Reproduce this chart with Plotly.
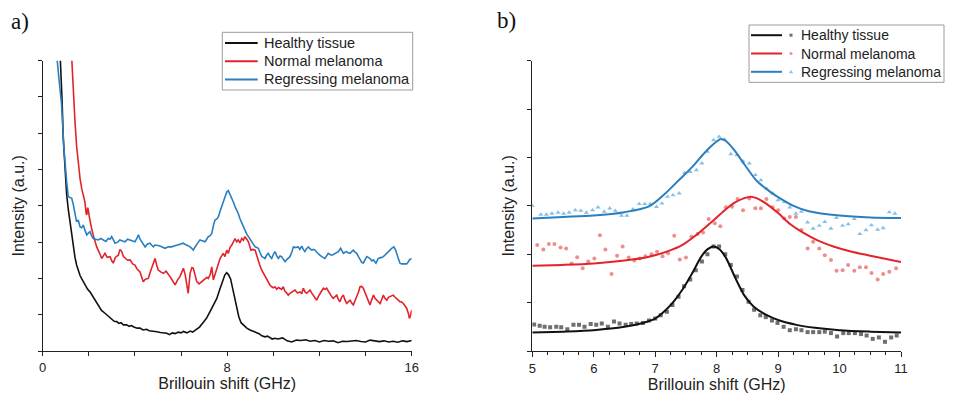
import plotly.graph_objects as go

# ---------------- Panel a: raw spectra ----------------
a_healthy_x = [0.70, 0.78, 0.84, 0.89, 0.96, 1.04, 1.11, 1.18, 1.25, 1.33, 1.40, 1.47, 1.55, 1.62, 1.70, 1.76,
               1.85, 1.95, 2.05, 2.15, 2.25, 2.41, 2.55, 2.70, 2.85, 3.00, 3.10, 3.21, 3.30, 3.40, 3.50, 3.64,
               3.75, 3.85, 3.95, 4.10, 4.22, 4.35, 4.50, 4.62, 4.80, 4.95, 5.10, 5.25, 5.38, 5.50, 5.62, 5.75,
               5.88, 6.00, 6.10, 6.25, 6.40, 6.50, 6.65, 6.80, 6.95, 7.10, 7.25, 7.40, 7.55, 7.68, 7.80, 7.90,
               7.98, 8.06, 8.15, 8.24, 8.32, 8.41, 8.50, 8.60, 8.72, 8.85, 8.99, 9.10, 9.21, 9.30, 9.40, 9.50,
               9.64, 9.75, 9.85, 9.95, 10.07, 10.2, 10.4, 10.6, 10.8, 11.0, 11.2, 11.4, 11.6, 11.8, 12.0, 12.2,
               12.4, 12.6, 12.8, 13.0, 13.2, 13.4, 13.6, 13.8, 14.0, 14.2, 14.4, 14.6, 14.8, 15.0, 15.2, 15.4,
               15.6, 15.8, 16.0]
a_healthy_y = [9.0, 8.0, 6.9, 5.88, 5.0, 4.30, 3.90, 3.56, 3.18, 2.83, 2.58, 2.37, 2.20, 2.08, 1.98, 1.91,
               1.78, 1.70, 1.63, 1.52, 1.42, 1.27, 1.12, 1.04, 0.95, 0.86, 0.82, 0.81, 0.76, 0.78, 0.72, 0.72,
               0.68, 0.70, 0.66, 0.63, 0.63, 0.58, 0.60, 0.56, 0.55, 0.53, 0.51, 0.49, 0.49, 0.45, 0.50, 0.48,
               0.52, 0.50, 0.54, 0.50, 0.55, 0.52, 0.58, 0.66, 0.78, 0.90, 1.08, 1.25, 1.45, 1.70, 1.95, 2.10,
               2.16, 2.10, 1.98, 1.70, 1.50, 1.13, 0.95, 0.78, 0.70, 0.63, 0.58, 0.55, 0.53, 0.49, 0.47, 0.42,
               0.39, 0.41, 0.37, 0.33, 0.35, 0.33, 0.36, 0.28, 0.25, 0.30, 0.29, 0.31, 0.27, 0.29, 0.25, 0.29,
               0.27, 0.28, 0.23, 0.27, 0.26, 0.27, 0.29, 0.26, 0.25, 0.30, 0.27, 0.26, 0.28, 0.25, 0.27, 0.24,
               0.28, 0.26, 0.29]

a_normal_x = [1.20, 1.26, 1.33, 1.40, 1.47, 1.54, 1.62, 1.69, 1.76, 1.83, 1.88, 1.91, 1.95, 1.98, 2.02, 2.05,
              2.12, 2.19, 2.26, 2.34, 2.45, 2.56, 2.63, 2.70, 2.80, 2.92, 3.00, 3.06, 3.15, 3.28, 3.35, 3.43,
              3.50, 3.57, 3.68, 3.79, 3.90, 4.00, 4.10, 4.22, 4.30, 4.36, 4.45, 4.58, 4.65, 4.73, 4.80, 4.87,
              4.95, 5.01, 5.12, 5.23, 5.35, 5.45, 5.52, 5.62, 5.74, 5.85, 5.95, 6.05, 6.10, 6.18, 6.24, 6.31,
              6.39, 6.47, 6.53, 6.60, 6.68, 6.78, 6.89, 6.97, 7.04, 7.12, 7.18, 7.26, 7.33, 7.40, 7.48, 7.55,
              7.62, 7.69, 7.76, 7.83, 7.90, 7.98, 8.05, 8.12, 8.20, 8.27, 8.34, 8.41, 8.48, 8.55, 8.63, 8.70,
              8.77, 8.85, 8.92, 9.03, 9.12, 9.21, 9.28, 9.35, 9.42, 9.50, 9.57, 9.64, 9.71, 9.78, 9.85, 9.93,
              10.00, 10.07, 10.15, 10.22, 10.29, 10.36, 10.43, 10.50, 10.58, 10.65, 10.72, 10.80, 10.87, 10.94,
              11.05, 11.16, 11.23, 11.30, 11.38, 11.45, 11.52, 11.59, 11.66, 11.73, 11.80, 11.88, 11.95, 12.02,
              12.10, 12.17, 12.24, 12.31, 12.38, 12.46, 12.53, 12.60, 12.68, 12.75, 12.82, 12.89, 12.96, 13.04,
              13.11, 13.18, 13.26, 13.33, 13.40, 13.47, 13.55, 13.62, 13.69, 13.76, 13.83, 13.90, 13.98, 14.05,
              14.12, 14.19, 14.27, 14.34, 14.41, 14.48, 14.55, 14.63, 14.70, 14.77, 14.84, 14.92, 14.99, 15.06,
              15.13, 15.20, 15.28, 15.35, 15.42, 15.49, 15.56, 15.64, 15.71, 15.78, 15.85, 15.90, 15.95, 16.00]
a_normal_y = [8.8, 8.0, 7.1, 6.32, 5.65, 5.12, 4.75, 4.48, 4.28, 4.11, 3.80, 3.75, 3.95, 3.88, 3.70, 3.56,
              3.38, 3.20, 3.02, 2.87, 2.72, 2.55, 2.62, 2.69, 2.58, 2.60, 2.48, 2.42, 2.58, 2.64, 2.80, 2.74,
              2.60, 2.55, 2.50, 2.51, 2.40, 2.37, 2.25, 2.18, 2.05, 1.91, 1.98, 2.00, 2.15, 2.28, 2.45, 2.55,
              2.35, 2.23, 2.18, 2.14, 2.20, 2.12, 2.05, 1.95, 1.82, 1.96, 2.05, 2.20, 2.28, 2.10, 1.91, 1.59,
              2.14, 2.30, 2.28, 2.10, 1.91, 1.85, 1.91, 1.96, 2.00, 2.03, 2.00, 2.10, 2.32, 1.96, 2.12, 2.28,
              2.40, 2.55, 2.62, 2.69, 2.60, 2.78, 2.69, 2.85, 2.92, 3.00, 3.10, 3.01, 3.06, 2.98, 3.10, 3.05,
              3.15, 3.08, 3.01, 2.78, 2.80, 2.78, 2.62, 2.51, 2.35, 2.23, 2.15, 2.05, 1.98, 1.91, 1.82, 1.77,
              1.74, 1.77, 1.70, 1.75, 1.73, 1.70, 1.77, 1.65, 1.60, 1.54, 1.59, 1.62, 1.63, 1.68,
              1.60, 1.63, 1.58, 1.73, 1.62, 1.59, 1.64, 1.68, 1.60, 1.54, 1.45, 1.40, 1.50, 1.59,
              1.66, 1.73, 1.70, 1.73, 1.65, 1.59, 1.50, 1.45, 1.50, 1.54, 1.42, 1.36, 1.48, 1.54,
              1.40, 1.31, 1.36, 1.40, 1.32, 1.27, 1.40, 1.50, 1.62, 1.77, 1.78, 1.73, 1.60, 1.50,
              1.38, 1.27, 1.42, 1.54, 1.45, 1.40, 1.36, 1.31, 1.42, 1.54, 1.45, 1.40, 1.48, 1.50,
              1.52, 1.54, 1.48, 1.45, 1.40, 1.36, 1.35, 1.31, 1.25, 1.18, 1.05, 0.90, 0.98, 1.13]

a_regress_x = [0.58, 0.63, 0.72, 0.82, 0.92, 0.98, 1.04, 1.11, 1.18, 1.26, 1.33, 1.40, 1.47, 1.54, 1.62, 1.69,
               1.76, 1.83, 1.91, 1.98, 2.05, 2.12, 2.19, 2.30, 2.41, 2.52, 2.63, 2.74, 2.84, 2.92, 2.99, 3.07,
               3.14, 3.25, 3.35, 3.46, 3.57, 3.68, 3.79, 3.90, 4.00, 4.08, 4.15, 4.22, 4.29, 4.37, 4.44, 4.55,
               4.65, 4.72, 4.80, 4.87, 4.94, 5.05, 5.16, 5.30, 5.45, 5.59, 5.74, 5.88, 6.00, 6.10, 6.17, 6.24,
               6.32, 6.39, 6.46, 6.53, 6.60, 6.68, 6.75, 6.82, 6.92, 7.04, 7.11, 7.18, 7.26, 7.33, 7.40, 7.47,
               7.55, 7.62, 7.69, 7.76, 7.84, 7.91, 7.98, 8.05, 8.12, 8.20, 8.27, 8.34, 8.41, 8.48, 8.55, 8.63,
               8.70, 8.77, 8.85, 8.92, 9.00, 9.06, 9.14, 9.21, 9.28, 9.35, 9.43, 9.50, 9.57, 9.64, 9.71, 9.78,
               9.86, 9.93, 10.00, 10.07, 10.15, 10.22, 10.29, 10.36, 10.44, 10.51, 10.58, 10.65, 10.72, 10.80,
               10.87, 10.94, 11.01, 11.08, 11.15, 11.23, 11.30, 11.37, 11.44, 11.52, 11.59, 11.66, 11.73, 11.81,
               11.88, 11.95, 12.02, 12.10, 12.17, 12.24, 12.31, 12.38, 12.46, 12.53, 12.60, 12.68, 12.75, 12.82,
               12.92, 12.98, 13.04, 13.11, 13.18, 13.26, 13.33, 13.40, 13.47, 13.55, 13.62, 13.69, 13.76, 13.83,
               13.90, 13.98, 14.05, 14.12, 14.19, 14.27, 14.34, 14.41, 14.45, 14.55, 14.63, 14.70, 14.77, 14.84,
               14.92, 14.99, 15.06, 15.13, 15.23, 15.30, 15.35, 15.42, 15.49, 15.56, 15.64, 15.71, 15.78, 15.85,
               15.90, 16.00]
a_regress_y = [8.8, 8.0, 7.4, 6.78, 5.58, 5.05, 4.66, 4.25, 4.22, 4.21, 4.02, 3.78, 3.56, 3.61, 3.42, 3.40,
               3.47, 3.33, 3.20, 3.25, 3.29, 3.18, 3.10, 3.08, 3.06, 3.10, 3.06, 3.02, 3.10, 3.08, 3.15, 3.05,
               2.97, 3.00, 3.06, 3.03, 3.01, 3.08, 3.06, 3.02, 3.01, 3.10, 3.20, 3.08, 3.01, 2.95, 2.87, 2.95,
               2.97, 2.92, 2.87, 2.92, 2.92, 2.90, 2.87, 2.83, 2.87, 2.87, 2.90, 2.92, 2.95, 2.97, 2.94, 2.92,
               2.90, 2.87, 2.83, 2.78, 2.86, 2.92, 3.00, 3.06, 3.04, 3.01, 3.08, 3.15, 3.18, 3.24, 3.45, 3.61,
               3.64, 3.70, 3.85, 3.98, 4.12, 4.25, 4.38, 4.42, 4.32, 4.25, 4.10, 3.98, 3.90, 3.79, 3.65, 3.52,
               3.42, 3.33, 3.22, 3.15, 3.08, 3.01, 2.95, 2.87, 2.85, 2.83, 2.70, 2.60, 2.58, 2.55, 2.64, 2.69,
               2.60, 2.55, 2.66, 2.74, 2.62, 2.55, 2.62, 2.60, 2.52, 2.46, 2.52, 2.55, 2.60, 2.72,
               2.87, 2.85, 2.87, 2.87, 2.80, 2.89, 2.80, 2.74, 2.82, 2.87, 2.82, 2.78, 2.80, 2.78,
               2.72, 2.69, 2.64, 2.60, 2.58, 2.55, 2.62, 2.69, 2.66, 2.64, 2.66, 2.69, 2.72, 2.74,
               2.83, 2.75, 2.69, 2.72, 2.74, 2.70, 2.69, 2.74, 2.78, 2.72, 2.69, 2.60, 2.51, 2.45,
               2.42, 2.52, 2.60, 2.58, 2.55, 2.48, 2.51, 2.45, 2.42, 2.55, 2.56, 2.58, 2.60, 2.64,
               2.68, 2.74, 2.78, 2.83, 2.87, 2.78, 2.69, 2.55, 2.42, 2.40, 2.40, 2.41, 2.40, 2.45,
               2.51, 2.55]

# ---------------- Panel b: data points + Lorentzian fits ----------------
b_healthy_pts_x = [5.03, 5.12, 5.20, 5.29, 5.39, 5.47, 5.57, 5.67, 5.76, 5.85, 5.95, 6.04, 6.13, 6.23, 6.33,
                   6.42, 6.52, 6.61, 6.70, 6.80, 6.90, 7.00, 7.09, 7.19, 7.28, 7.38, 7.47, 7.57, 7.66, 7.76,
                   7.85, 7.95, 8.04, 8.14, 8.23, 8.33, 8.42, 8.52, 8.61, 8.71, 8.80, 8.90, 8.99, 9.09, 9.19,
                   9.29, 9.38, 9.48, 9.57, 9.67, 9.76, 9.86, 9.96, 10.06, 10.15, 10.25, 10.35, 10.44, 10.54,
                   10.64, 10.74, 10.84, 10.93]
b_healthy_pts_y = [0.55, 0.52, 0.50, 0.49, 0.50, 0.49, 0.45, 0.54, 0.54, 0.50, 0.56, 0.54, 0.57, 0.50, 0.61,
                   0.57, 0.54, 0.56, 0.57, 0.58, 0.63, 0.67, 0.74, 0.81, 0.95, 1.12, 1.34, 1.48, 1.67, 1.85,
                   2.00, 2.16, 2.16, 2.00, 1.78, 1.54, 1.26, 1.02, 0.85, 0.74, 0.70, 0.63, 0.58, 0.50, 0.43,
                   0.45, 0.43, 0.39, 0.39, 0.39, 0.40, 0.37, 0.30, 0.37, 0.37, 0.37, 0.35, 0.32, 0.25,
                   0.28, 0.19, 0.28, 0.32]

b_normal_pts_x = [5.08, 5.18, 5.27, 5.36, 5.46, 5.55, 5.64, 5.73, 5.82, 5.91, 6.01, 6.10, 6.19, 6.29, 6.38,
                  6.47, 6.57, 6.66, 6.75, 6.84, 6.94, 7.03, 7.12, 7.21, 7.31, 7.40, 7.50, 7.59, 7.69, 7.78,
                  7.87, 7.97, 8.06, 8.15, 8.25, 8.34, 8.43, 8.53, 8.63, 8.72, 8.81, 8.91, 9.00, 9.10, 9.19,
                  9.29, 9.38, 9.48, 9.57, 9.67, 9.76, 9.86, 9.95, 10.05, 10.14, 10.24, 10.33, 10.43, 10.52,
                  10.62, 10.71, 10.81, 10.92]
b_normal_pts_y = [2.19, 2.10, 2.21, 2.21, 2.14, 2.12, 1.81, 1.94, 1.71, 1.85, 1.91, 2.39, 2.10, 1.59, 1.97,
                  2.16, 1.93, 1.87, 1.91, 1.96, 2.00, 2.05, 1.96, 2.02, 2.38, 1.89, 1.93, 2.36, 2.42, 2.45,
                  2.73, 2.64, 2.58, 2.97, 2.98, 3.14, 2.91, 3.15, 2.95, 2.95, 3.14, 2.97, 2.91, 2.74, 2.77,
                  2.77, 2.50, 2.12, 2.26, 2.12, 1.98, 1.88, 1.66, 1.67, 1.78, 1.66, 1.73, 1.73, 1.61,
                  1.48, 1.59, 1.64, 1.71]

b_regress_pts_x = [5.00, 5.14, 5.23, 5.32, 5.42, 5.51, 5.60, 5.70, 5.79, 5.88, 5.98, 6.07, 6.17, 6.26, 6.35,
                   6.45, 6.54, 6.64, 6.74, 6.83, 6.92, 7.02, 7.11, 7.20, 7.29, 7.39, 7.48, 7.57, 7.67, 7.76,
                   7.85, 7.95, 8.04, 8.13, 8.23, 8.33, 8.43, 8.53, 8.63, 8.72, 8.81, 8.91, 9.00, 9.10, 9.19,
                   9.29, 9.38, 9.48, 9.57, 9.67, 9.76, 9.86, 9.95, 10.05, 10.14, 10.24, 10.33, 10.43, 10.52,
                   10.62, 10.71, 10.81, 10.90]
b_regress_pts_y = [3.00, 2.82, 2.82, 2.84, 2.86, 2.84, 2.86, 2.91, 2.90, 2.86, 2.91, 2.97, 2.88, 2.95, 2.90,
                   2.80, 2.80, 2.93, 3.04, 3.04, 3.04, 2.98, 3.05, 3.19, 3.22, 3.26, 3.68, 3.70, 3.74, 3.88,
                   4.12, 4.36, 4.43, 4.37, 4.07, 4.05, 3.92, 3.88, 3.64, 3.53, 3.36, 3.26, 3.12, 3.08, 2.97,
                   2.84, 2.88, 2.66, 2.53, 2.59, 2.67, 2.53, 2.75, 2.59, 2.62, 2.73, 2.42, 2.50, 2.60,
                   2.51, 2.54, 2.87, 2.84]

b_healthy_fit_x = [5.0, 5.5, 6.0, 6.5, 6.8, 7.0, 7.15, 7.3, 7.45, 7.6, 7.75, 7.85, 7.95, 8.05, 8.15, 8.3, 8.45,
                   8.6, 8.8, 9.0, 9.3, 9.6, 10.0, 10.5, 11.0]
b_healthy_fit_y = [0.38, 0.40, 0.43, 0.50, 0.58, 0.67, 0.82, 1.02, 1.28, 1.60, 1.95, 2.10, 2.16, 2.10, 1.93,
                   1.52, 1.15, 0.92, 0.75, 0.64, 0.54, 0.48, 0.43, 0.40, 0.38]

b_normal_fit_x = [5.0, 5.5, 6.0, 6.5, 6.9, 7.2, 7.45, 7.7, 7.95, 8.15, 8.3, 8.45, 8.55, 8.65, 8.8, 9.0, 9.2,
                  9.4, 9.65, 9.9, 10.2, 10.5, 11.0]
b_normal_fit_y = [1.76, 1.78, 1.81, 1.87, 1.95, 2.06, 2.20, 2.43, 2.70, 2.93, 3.07, 3.16, 3.19, 3.16, 3.05,
                  2.85, 2.62, 2.45, 2.28, 2.16, 2.05, 1.97, 1.84]

b_regress_fit_x = [5.0, 5.5, 6.0, 6.5, 6.9, 7.15, 7.4, 7.6, 7.75, 7.9, 8.0, 8.07, 8.15, 8.3, 8.45, 8.65, 8.85,
                   9.0, 9.25, 9.5, 10.0, 10.5, 11.0]
b_regress_fit_y = [2.74, 2.77, 2.80, 2.87, 2.99, 3.24, 3.55, 3.80, 4.02, 4.22, 4.33, 4.38, 4.34, 4.13, 3.86,
                   3.52, 3.31, 3.18, 3.00, 2.89, 2.80, 2.76, 2.75]

series_names = ["Healthy tissue", "Normal melanoma", "Regressing melanoma"]
line_colors = ["#111111", "#e2232a", "#2a7fc0"]
point_colors = ["rgba(95,95,95,0.9)", "rgba(236,120,120,0.85)", "rgba(120,185,230,0.9)"]
point_symbols = ["square", "circle", "triangle-up"]

FONT = "Liberation Sans, Arial, sans-serif"
# The page body keeps its default 8 px margin, so the figure is sized to the rest of the window
# and all layout positions below (given in window pixels) are shifted by that offset.
OFF = 8
W, H = 953 - OFF, 396 - OFF
fig = go.Figure()


def px(x):
    return (x - OFF) / W


def py(y):
    return 1 - (y - OFF) / H


# Panel a traces
for xs, ys, name, col in zip([a_healthy_x, a_normal_x, a_regress_x],
                             [a_healthy_y, a_normal_y, a_regress_y], series_names, line_colors):
    fig.add_trace(go.Scatter(x=xs, y=ys, mode="lines", name=name, showlegend=False,
                             line=dict(color=col, width=1.6), xaxis="x", yaxis="y"))

# Panel b points
for xs, ys, name, col, sym in zip([b_healthy_pts_x, b_normal_pts_x, b_regress_pts_x],
                                  [b_healthy_pts_y, b_normal_pts_y, b_regress_pts_y],
                                  series_names, point_colors, point_symbols):
    fig.add_trace(go.Scatter(x=xs, y=ys, mode="markers", name=name, showlegend=False,
                             marker=dict(color=col, size=4 if sym != "triangle-up" else 4.5,
                                         symbol=sym, line=dict(width=0)),
                             xaxis="x2", yaxis="y2"))
# Panel b fits
for xs, ys, name, col in zip([b_healthy_fit_x, b_normal_fit_x, b_regress_fit_x],
                             [b_healthy_fit_y, b_normal_fit_y, b_regress_fit_y], series_names, line_colors):
    fig.add_trace(go.Scatter(x=xs, y=ys, mode="lines", name=name, showlegend=False,
                             line=dict(color=col, width=2, shape="spline", smoothing=0.8),
                             xaxis="x2", yaxis="y2"))

# ---- legends (drawn as boxes, sample lines and text) ----
shapes = []
annotations = []


def add_legend(box, rows_y, line_x0, line_x1, text_x, font_size, marker_x=None):
    shapes.append(dict(type="rect", xref="paper", yref="paper", x0=px(box[0]), x1=px(box[1]),
                       y0=py(box[3]), y1=py(box[2]), line=dict(color="#9a9a9a", width=1),
                       fillcolor="white", layer="above"))
    for i, (name, col) in enumerate(zip(series_names, line_colors)):
        yy = rows_y[i]
        shapes.append(dict(type="line", xref="paper", yref="paper", x0=px(line_x0), x1=px(line_x1),
                           y0=py(yy), y1=py(yy), line=dict(color=col, width=2), layer="above"))
        if marker_x is not None:
            mc = point_colors[i]
            r = 1.5
            if point_symbols[i] == "square":
                shapes.append(dict(type="rect", xref="paper", yref="paper", x0=px(marker_x - r),
                                   x1=px(marker_x + r), y0=py(yy + r), y1=py(yy - r),
                                   fillcolor=mc, line=dict(width=0), layer="above"))
            elif point_symbols[i] == "circle":
                shapes.append(dict(type="circle", xref="paper", yref="paper", x0=px(marker_x - r),
                                   x1=px(marker_x + r), y0=py(yy + r), y1=py(yy - r),
                                   fillcolor=mc, line=dict(width=0), layer="above"))
            else:
                path = "M {:.5f} {:.5f} L {:.5f} {:.5f} L {:.5f} {:.5f} Z".format(
                    px(marker_x - 2), py(yy + 1.5), px(marker_x + 2), py(yy + 1.5), px(marker_x), py(yy - 2))
                shapes.append(dict(type="path", xref="paper", yref="paper", path=path,
                                   fillcolor=mc, line=dict(width=0), layer="above"))
        annotations.append(dict(text=name, x=px(text_x), y=py(yy), xref="paper", yref="paper",
                                xanchor="left", yanchor="middle", showarrow=False,
                                font=dict(family=FONT, size=font_size, color="#222")))


add_legend(box=(222.3, 412.7, 32.3, 90.0), rows_y=[43.0, 61.2, 79.4],
           line_x0=225.0, line_x1=257.7, text_x=261.5, font_size=14.5)
add_legend(box=(749.0, 944.0, 25.0, 82.3), rows_y=[35.2, 53.5, 71.8],
           line_x0=751.0, line_x1=782.0, text_x=799.0, font_size=14.0, marker_x=791.0)

annotations.append(dict(text="a)", x=px(9), y=py(22), xref="paper", yref="paper", xanchor="left",
                        yanchor="middle", showarrow=False,
                        font=dict(family="Liberation Serif, Times New Roman, serif", size=23, color="#111")))
annotations.append(dict(text="b)", x=px(495), y=py(21), xref="paper", yref="paper", xanchor="left",
                        yanchor="middle", showarrow=False,
                        font=dict(family="Liberation Serif, Times New Roman, serif", size=23, color="#111")))

ax_common = dict(showgrid=False, zeroline=False, showline=True, linecolor="#222", linewidth=1.3,
                 ticks="outside", tickcolor="#222", tickwidth=1.2, mirror=False, automargin=False)
ydom = [py(351), py(60.7)]

fig.update_layout(
    width=W, height=H, margin=dict(l=0, r=0, t=0, b=0, autoexpand=False),
    paper_bgcolor="white", plot_bgcolor="white", showlegend=False,
    font=dict(family=FONT, color="#222", size=13),
    xaxis=dict(domain=[px(42.7), px(411.7)], range=[0, 16], tickvals=[0, 8, 16], ticklen=4,
               minor=dict(dtick=2, ticks="outside", ticklen=4, tickcolor="#222", tickwidth=1.2),
               tickfont=dict(size=13), anchor="y",
               title=dict(text="Brillouin shift (GHz)", font=dict(size=16), standoff=4), **ax_common),
    yaxis=dict(domain=ydom, range=[0, 8], dtick=1, ticklen=4, showticklabels=False, anchor="x",
               title=dict(text="Intensity (a.u.)", font=dict(size=16), standoff=8), **ax_common),
    xaxis2=dict(domain=[px(532.3), px(901)], range=[5, 11], dtick=1, ticklen=5,
                minor=dict(dtick=0.25, ticks="outside", ticklen=2.5, tickcolor="#222", tickwidth=1.1),
                tickfont=dict(size=13), anchor="y2",
                title=dict(text="Brillouin shift (GHz)", font=dict(size=16), standoff=4), **ax_common),
    yaxis2=dict(domain=ydom, range=[0, 6], dtick=1, ticklen=4, showticklabels=False, anchor="x2",
                title=dict(text="Intensity (a.u.)", font=dict(size=16), standoff=8), **ax_common),
    shapes=shapes,
    annotations=annotations,
)

fig.write_html("out.html")
